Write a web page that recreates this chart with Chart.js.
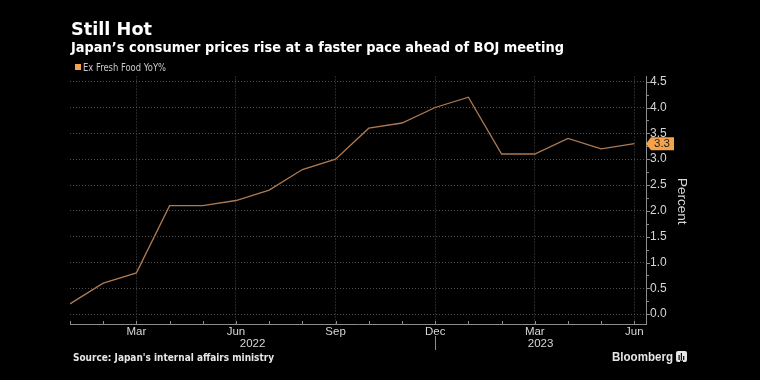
<!DOCTYPE html>
<html><head><meta charset="utf-8">
<script src="https://cdn.jsdelivr.net/npm/chart.js@4"></script>
<style>html,body{margin:0;padding:0;background:#000;}canvas{display:block}</style>
</head><body>
<canvas id="c" width="760" height="380"></canvas>
<script>
// ---- data ----
const months = ['Jan','Feb','Mar','Apr','May','Jun','Jul','Aug','Sep','Oct','Nov','Dec','Jan','Feb','Mar','Apr','May','Jun'];
const cpiExFresh = [0.2,0.6,0.8,2.1,2.1,2.2,2.4,2.8,3.0,3.6,3.7,4.0,4.2,3.1,3.1,3.4,3.2,3.3];
const labeledMonthIdx = [2,5,8,11,14,17];
const yearLabels = ['2022','2023'];
const yearBoundIdx = [0, 11];
const yTickValues = [0,0.5,1.0,1.5,2.0,2.5,3.0,3.5,4.0,4.5];
const seriesName = 'Ex Fresh Food YoY%';
const titleText = 'Still Hot';
const subtitleText = 'Japan\u2019s consumer prices rise at a faster pace ahead of BOJ meeting';
const sourceText = 'Source: Japan\'s internal affairs ministry';
const X_MAX = 17.35, Y_MIN = -0.19, Y_MAX = 4.6;

const ORANGE = '#f5a24b';
const LINE = '#ad7a52';
const GRID = '#4d4d4d';
const AXIS = '#8c8c8c';
const TXT = '#d6d6d6';

// draw text at a fixed font size, stretched horizontally to the measured width
function fitText(ctx, text, x, y, width, size, weight, family, color, baseline) {
  ctx.save();
  ctx.font = `${weight} ${size}px ${family}`;
  const w = ctx.measureText(text).width;
  ctx.translate(x, y);
  ctx.scale(width / w, 1);
  ctx.fillStyle = color;
  ctx.textBaseline = baseline || 'alphabetic';
  ctx.textAlign = 'left';
  ctx.fillText(text, 0, 0);
  ctx.restore();
}

const decor = {
  id: 'decor',
  beforeDraw(chart) {
    const ctx = chart.ctx;
    ctx.save();
    ctx.fillStyle = '#000';
    ctx.fillRect(0, 0, chart.width, chart.height);
    ctx.restore();
  },
  afterDraw(chart) {
    const ctx = chart.ctx;
    const xs = chart.scales.x, ys = chart.scales.y;
    const area = chart.chartArea;
    // titles
    fitText(ctx, titleText, 71, 35, 81, 17, 'bold', '"DejaVu Sans"', '#ffffff');
    fitText(ctx, subtitleText, 71, 52, 493, 14, 'bold', '"DejaVu Sans"', '#ffffff');
    // legend
    ctx.save();
    ctx.fillStyle = ORANGE;
    ctx.fillRect(75, 64, 6, 6);
    ctx.restore();
    fitText(ctx, seriesName, 83, 68, 83, 10.5, 'normal', '"DejaVu Sans"', '#c8c8c8', 'middle');
    // x minor ticks (every month), inward
    ctx.save();
    ctx.strokeStyle = AXIS; ctx.lineWidth = 1;
    months.forEach((m, i) => {
      const px = Math.round(xs.getPixelForValue(i)) + 0.5;
      ctx.beginPath(); ctx.moveTo(px, area.bottom); ctx.lineTo(px, area.bottom - 3); ctx.stroke();
    });
    // year separator
    const sx = Math.round(xs.getPixelForValue(yearBoundIdx[1])) + 0.5;
    ctx.beginPath(); ctx.moveTo(sx, area.bottom + 12); ctx.lineTo(sx, area.bottom + 26); ctx.stroke();
    // y ticks (0.25 step)
    for (let v = 0; v <= 4.5001; v += 0.25) {
      const py = Math.round(ys.getPixelForValue(v)) + 0.5;
      const major = Math.abs(v * 2 - Math.round(v * 2)) < 1e-6;
      ctx.beginPath(); ctx.moveTo(area.right, py); ctx.lineTo(area.right + (major ? 4 : 3), py); ctx.stroke();
    }
    ctx.restore();
    // year labels
    ctx.save();
    ctx.fillStyle = TXT; ctx.font = '11.5px "Liberation Sans"';
    ctx.textAlign = 'center'; ctx.textBaseline = 'middle';
    const bounds = [xs.getPixelForValue(yearBoundIdx[0]), xs.getPixelForValue(yearBoundIdx[1]), area.right];
    yearLabels.forEach((t, i) => ctx.fillText(t, (bounds[i] + bounds[i + 1]) / 2, area.bottom + 19.5));
    ctx.restore();
    // axis title
    ctx.save();
    ctx.translate(682, (area.top + area.bottom) / 2 + 1);
    ctx.rotate(Math.PI / 2);
    ctx.fillStyle = TXT; ctx.font = '13.5px "Liberation Sans"';
    ctx.textAlign = 'center'; ctx.textBaseline = 'middle';
    ctx.fillText('Percent', 0, 0);
    ctx.restore();
    // last value badge
    const last = cpiExFresh[cpiExFresh.length - 1];
    const by = ys.getPixelForValue(last);
    ctx.save();
    ctx.fillStyle = ORANGE;
    ctx.beginPath();
    ctx.moveTo(area.right, by);
    ctx.lineTo(area.right + 5, by - 6.5);
    ctx.lineTo(area.right + 28, by - 6.5);
    ctx.lineTo(area.right + 28, by + 6.5);
    ctx.lineTo(area.right + 5, by + 6.5);
    ctx.closePath(); ctx.fill();
    ctx.fillStyle = '#1a1a1a'; ctx.font = '11.5px "Liberation Sans"';
    ctx.textAlign = 'center'; ctx.textBaseline = 'middle';
    ctx.fillText(last.toFixed(1), area.right + 16, by + 0.5);
    ctx.restore();
    // source
    fitText(ctx, sourceText, 73, 358, 201, 10.5, 'bold', '"DejaVu Sans"', '#e6e6e6', 'middle');
    // Bloomberg
    fitText(ctx, 'Bloomberg', 612, 357, 61, 13, 'bold', '"Liberation Sans"', '#e6e6e6', 'middle');
    ctx.save();
    ctx.fillStyle = '#e6e6e6';
    ctx.beginPath();
    if (ctx.roundRect) ctx.roundRect(676, 351, 11, 11, 2); else ctx.rect(676, 351, 11, 11);
    ctx.fill();
    ctx.fillStyle = '#000';
    ctx.fillRect(678.5, 355, 1.2, 5);
    ctx.fillRect(680.8, 353, 1.2, 7);
    ctx.fillRect(683.1, 356, 1.2, 4);
    ctx.fillRect(680, 360.5, 3, 1.5);
    ctx.restore();
  }
};

const ctx = document.getElementById('c').getContext('2d');
new Chart(ctx, {
  type: 'line',
  data: {
    datasets: [{
      label: seriesName,
      data: cpiExFresh.map((v, i) => ({x: i, y: v})),
      borderColor: LINE,
      borderWidth: 1.3,
      pointRadius: 0,
      tension: 0,
      fill: false
    }]
  },
  options: {
    responsive: false,
    animation: false,
    devicePixelRatio: 1,
    layout: {padding: {left: 70, top: 76.5, right: 0, bottom: 0}},
    plugins: {legend: {display: false}, tooltip: {enabled: false}, title: {display: false}},
    scales: {
      x: {
        type: 'linear', position: 'bottom', min: 0, max: X_MAX,
        afterBuildTicks: s => { s.ticks = months.map((m, i) => ({value: i})); },
        afterFit: s => { s.height = 56; },
        ticks: {
          autoSkip: false, maxRotation: 0, minRotation: 0, padding: 1,
          color: TXT, font: {family: '"Liberation Sans"', size: 11.5},
          callback: v => labeledMonthIdx.includes(v) ? months[v] : ''
        },
        grid: {
          drawTicks: false, lineWidth: 1,
          color: c => (c.tick && labeledMonthIdx.includes(c.tick.value)) ? GRID : 'rgba(0,0,0,0)'
        },
        border: {display: true, color: AXIS, width: 1, dash: [1, 2]}
      },
      y: {
        type: 'linear', position: 'right', min: Y_MIN, max: Y_MAX,
        afterBuildTicks: s => { s.ticks = yTickValues.map(v => ({value: v})); },
        afterFit: s => { s.width = 114; },
        ticks: {
          padding: 4, color: TXT, font: {family: '"Liberation Sans"', size: 12},
          callback: v => Number(v).toFixed(1)
        },
        grid: {drawTicks: false, color: GRID, lineWidth: 1},
        border: {display: true, color: AXIS, width: 1, dash: [1, 2]}
      }
    }
  },
  plugins: [decor]
});
</script>
</body></html>
